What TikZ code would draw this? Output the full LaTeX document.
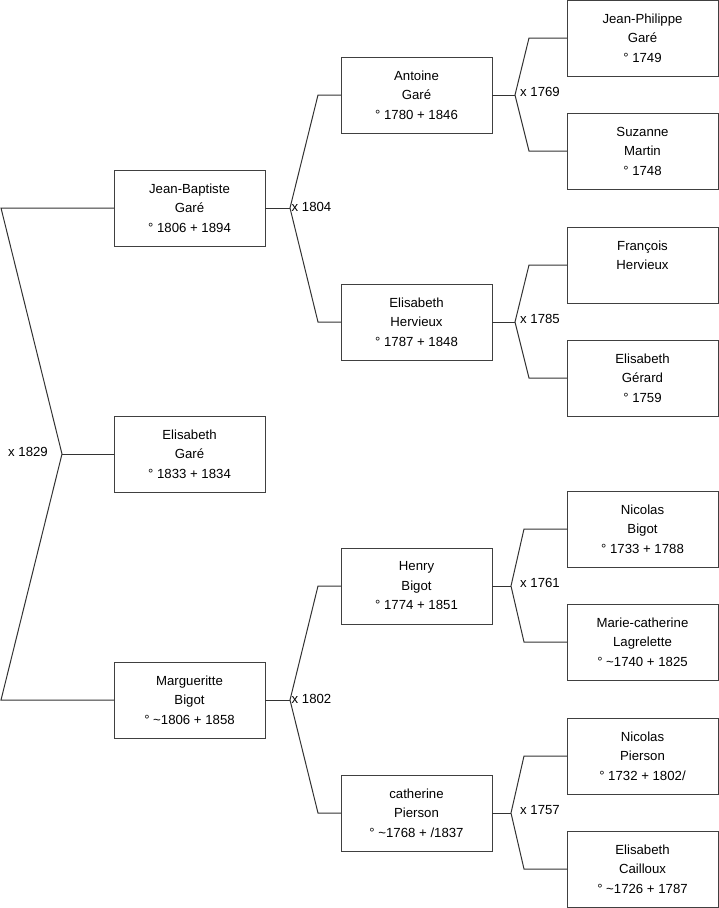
\documentclass[tikz,border=0pt]{standalone}
\usepackage{fontspec}
\setmainfont{Liberation Sans}
\usetikzlibrary{positioning}

\begin{document}
\begin{tikzpicture}[
x=1pt, y=-1pt,
person/.style={draw=black!75, line width=1pt, align=center, minimum width=151pt, minimum height=76pt, inner sep=0pt, outer sep=0pt, font=\fontsize{13.2}{19.5}\selectfont},
link/.style={draw=black!80, line width=1pt},
union/.style={inner sep=0pt, font=\fontsize{13.2}{15}\selectfont}
]
\useasboundingbox (0,0) rectangle (719,908);

% generation 1
\node[person] (jb) at (189.5,208) {Jean-Baptiste\\Garé\\° 1806 + 1894};
\node[person, below=170pt of jb] (eli) {Elisabeth\\Garé\\° 1833 + 1834};
\node[person, below=170pt of eli] (mar) {Margueritte\\Bigot\\° \textasciitilde1806 + 1858};

% generation 2
\node[person, right=76pt of jb, yshift=113pt] (ant) {Antoine\\Garé\\° 1780 + 1846};
\node[person, right=76pt of jb, yshift=-114pt] (her) {Elisabeth\\Hervieux\\° 1787 + 1848};
\node[person, right=76pt of mar, yshift=114pt] (hen) {Henry\\Bigot\\° 1774 + 1851};
\node[person, right=76pt of mar, yshift=-113pt] (cat) {catherine\\Pierson\\° \textasciitilde1768 + /1837};

% generation 3
\node[person, right=75pt of ant, yshift=57pt] (jp) {Jean-Philippe\\Garé\\° 1749};
\node[person, right=75pt of ant, yshift=-56pt] (suz) {Suzanne\\Martin\\° 1748};
\node[person, right=75pt of her, yshift=57pt] (fra) {François\\Hervieux\\\mbox{}};
\node[person, right=75pt of her, yshift=-56pt] (eg) {Elisabeth\\Gérard\\° 1759};
\node[person, right=75pt of hen, yshift=57pt] (nb) {Nicolas\\Bigot\\° 1733 + 1788};
\node[person, right=75pt of hen, yshift=-56pt] (mc) {Marie-catherine\\Lagrelette\\° \textasciitilde1740 + 1825};
\node[person, right=75pt of cat, yshift=57pt] (np) {Nicolas\\Pierson\\° 1732 + 1802/};
\node[person, right=75pt of cat, yshift=-56pt] (ec) {Elisabeth\\Cailloux\\° \textasciitilde1726 + 1787};

% forks
\coordinate (froot) at ([xshift=-52pt]eli.west);
\coordinate (fjb) at ([xshift=25pt]jb.east);
\coordinate (fmar) at ([xshift=25pt]mar.east);
\coordinate (fant) at ([xshift=23pt]ant.east);
\coordinate (fher) at ([xshift=23pt]her.east);
\coordinate (fhen) at ([xshift=19pt]hen.east);
\coordinate (fcat) at ([xshift=19pt]cat.east);

\draw[link] (jb.west) -- ([xshift=-113pt]jb.west) -- (froot) -- ([xshift=-113pt]mar.west) -- (mar.west);
\draw[link] (froot) -- (eli.west);

\draw[link] (jb.east) -- (fjb);
\draw[link] (ant.west) -- ([xshift=-23pt]ant.west) -- (fjb) -- ([xshift=-23pt]her.west) -- (her.west);
\draw[link] (mar.east) -- (fmar);
\draw[link] (hen.west) -- ([xshift=-23pt]hen.west) -- (fmar) -- ([xshift=-23pt]cat.west) -- (cat.west);

\draw[link] (ant.east) -- (fant);
\draw[link] (jp.west) -- ([xshift=-38pt]jp.west) -- (fant) -- ([xshift=-38pt]suz.west) -- (suz.west);
\draw[link] (her.east) -- (fher);
\draw[link] (fra.west) -- ([xshift=-38pt]fra.west) -- (fher) -- ([xshift=-38pt]eg.west) -- (eg.west);
\draw[link] (hen.east) -- (fhen);
\draw[link] (nb.west) -- ([xshift=-43pt]nb.west) -- (fhen) -- ([xshift=-43pt]mc.west) -- (mc.west);
\draw[link] (cat.east) -- (fcat);
\draw[link] (np.west) -- ([xshift=-43pt]np.west) -- (fcat) -- ([xshift=-43pt]ec.west) -- (ec.west);

% marriages
\node[union, left=14pt of froot, yshift=2pt] (u1829) {x 1829};
\node[union, right=1.5pt of fjb, yshift=1pt] (u1804) {x 1804};
\node[union, right=1.5pt of fmar, yshift=1pt] (u1802) {x 1802};
\node[union, right=5pt of fant, yshift=3pt] (u1769) {x 1769};
\node[union, right=5pt of fher, yshift=3pt] (u1785) {x 1785};
\node[union, right=9pt of fhen, yshift=3pt] (u1761) {x 1761};
\node[union, right=9pt of fcat, yshift=3pt] (u1757) {x 1757};
\end{tikzpicture}
\end{document}
